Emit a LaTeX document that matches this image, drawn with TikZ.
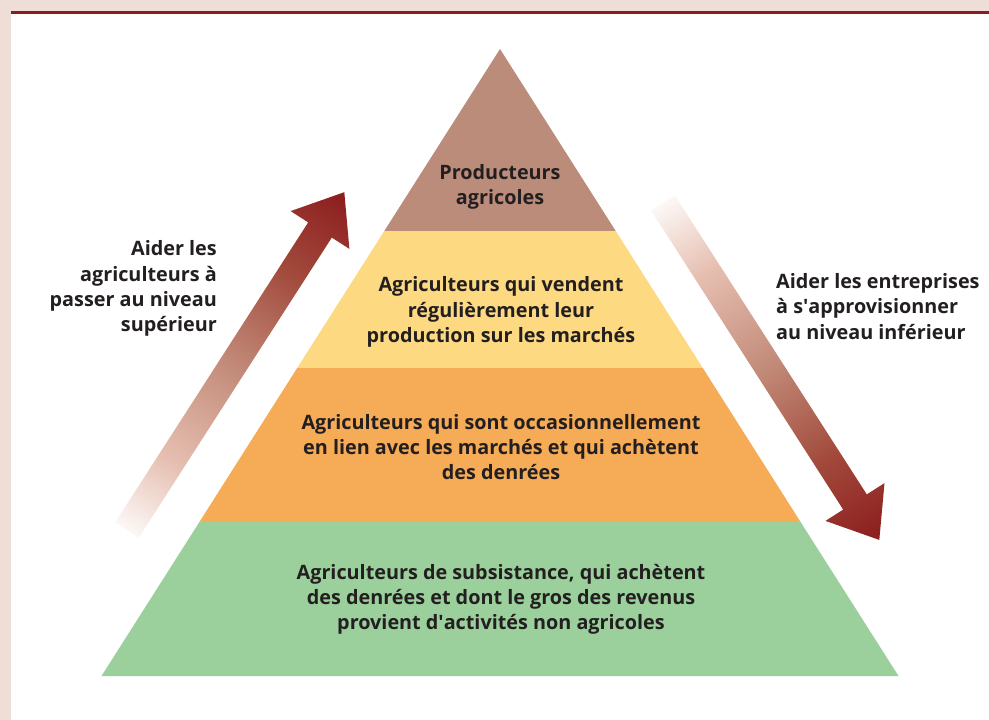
\documentclass[tikz,border=0pt]{standalone}
\usepackage{fontspec}
\setmainfont{Open Sans}
\usepackage{tikz}

\definecolor{pinkbg}{HTML}{EFDED7}
\definecolor{framered}{HTML}{8E1B1F}
\definecolor{topbrown}{HTML}{BC8C7B}
\definecolor{midyellow}{HTML}{FDD982}
\definecolor{midorange}{HTML}{F6AB57}
\definecolor{basegreen}{HTML}{9BD09C}
\definecolor{ink}{HTML}{231F20}
\definecolor{arrowred}{HTML}{8C1D1D}
\definecolor{fadeA}{HTML}{E6BFB1}
\definecolor{fadeB}{HTML}{C28A78}
\definecolor{fadeC}{HTML}{A24A3C}

%fades from white at the tail to dark red at the head
\pgfdeclareverticalshading{arrowfade}{100bp}{color(0bp)=(white); color(17bp)=(white!92!fadeA); color(31bp)=(fadeA); color(50bp)=(fadeB); color(68bp)=(fadeC); color(84bp)=(arrowred); color(100bp)=(arrowred)}

%straight apostrophe
\newcommand{\sq}{\XeTeXglyph\XeTeXglyphindex "quotesingle"\relax}

\tikzset{
	lbl/.style={font=\fontsize{19.8}{25.2}\selectfont\bfseries, text=ink, align=center, inner sep=0pt},
}

\begin{document}
\begin{tikzpicture}[x=1pt,y=-1pt]
	\useasboundingbox (0,0) rectangle (989,720);
	%frame
	\fill[pinkbg] (0,0) rectangle (989,720);
	\fill[white] (11,11) rectangle (989,720);
	\fill[framered] (11,11) rectangle (989,13.5);
	
	%layers (apex at (500,49), base at y=676)
	\fill[topbrown]  (500,49)--(615.7,231)--(384.3,231)--cycle;
	\fill[midyellow] (384.3,231)--(615.7,231)--(702.8,368)--(297.2,368)--cycle;
	\fill[midorange] (297.2,368)--(702.8,368)--(800.6,522)--(199.4,522)--cycle;
	\fill[basegreen] (199.4,522)--(800.6,522)--(898.5,676)--(101.5,676)--cycle;
	
	%arrows
	\shade[shading=arrowfade, shading angle=-32.8]
		(115.2,522.4)--(308.2,222.4)--(290.6,211.1)--(344.3,192.2)--(349.4,248.9)--(331.8,237.6)--(138.8,537.6)--cycle;	%up
	\shade[shading=arrowfade, shading angle=-147.3]
		(651.2,210.6)--(843.2,509.6)--(825.5,520.9)--(879.3,539.9)--(884.5,483.1)--(866.8,494.4)--(674.8,195.4)--cycle;	%down
	
	%layer labels
	\node[lbl] (producteurs) at (500,187) {Producteurs\\agricoles};
	\node[lbl] (reguliers) at (501,312) {Agriculteurs qui vendent\\régulièrement leur\\production sur les marchés};
	\node[lbl] (occasionnels) at (501,447) {Agriculteurs qui sont occasionnellement\\en lien avec les marchés et qui achètent\\des denrées};
	\node[lbl] (subsistance) at (501,599.5) {Agriculteurs de subsistance, qui achètent\\des denrées et dont le gros des revenus\\provient d\sq activités non agricoles};
	
	%side labels
	\node[lbl, align=right, anchor=east] (monter) at (217,288.5) {Aider les\\agriculteurs à\\passer au niveau\\supérieur};
	\node[lbl, align=left, anchor=west] (descendre) at (776,306.5) {Aider les entreprises\\à s\sq approvisionner\\au niveau inférieur};
\end{tikzpicture}
\end{document}
